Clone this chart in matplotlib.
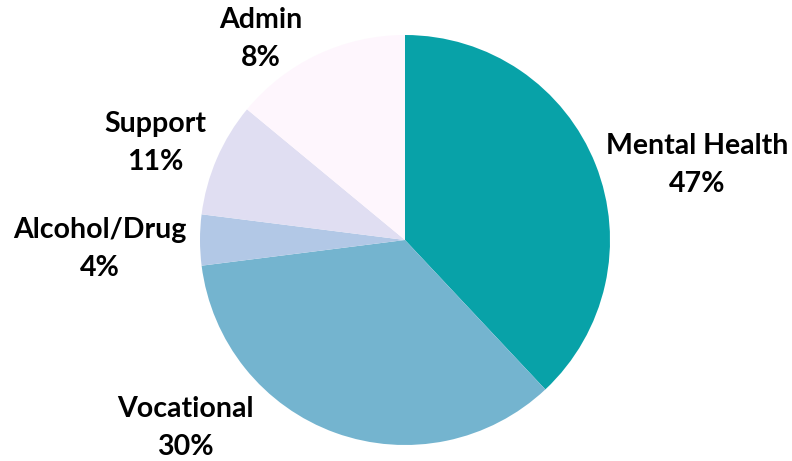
import matplotlib
matplotlib.use("Agg")
from matplotlib import pyplot as plt

# slice sizes as drawn in the picture (the printed percentages differ)
categories = ["Mental Health", "Vocational", "Alcohol/Drug", "Support", "Admin"]
slice_sizes = [38, 35, 4, 9, 14]
pct_labels = ["47%", "30%", "4%", "11%", "8%"]

colors = ["#08A2A8", "#74B4CF", "#B2C8E6", "#E0DEF2", "#FEF6FD"]

# label centres in pixels (name line, percent line below)
label_px = [(697, 146), (185, 409), (100, 230), (155, 124), (261, 20)]

W, H = 792, 461
cx, cy, r = 405, 240, 205

plt.rcParams['font.family'] = ['Lato', 'DejaVu Sans']

fig = plt.figure(figsize=(W / 100, H / 100), dpi=100)
ax = fig.add_axes([0, 0, 1, 1])
ax.pie(slice_sizes, colors=colors, startangle=90, counterclock=False,
       radius=1, wedgeprops=dict(linewidth=0))
ax.set_xlim(-cx / r, (W - cx) / r)
ax.set_ylim((cy - H) / r, cy / r)
ax.set_aspect('auto')
ax.axis('off')

def to_data(px, py):
    return (px - cx) / r, (cy - py) / r

for name, pct, (px, py) in zip(categories, pct_labels, label_px):
    x, y = to_data(px, py)
    ax.text(x, y, name, ha='center', va='center', fontsize=20.5, fontweight='bold')
    x, y = to_data(px, py + 38)
    ax.text(x, y, pct, ha='center', va='center', fontsize=20.5, fontweight='bold')

fig.savefig("out.png", dpi=100, facecolor='white')
